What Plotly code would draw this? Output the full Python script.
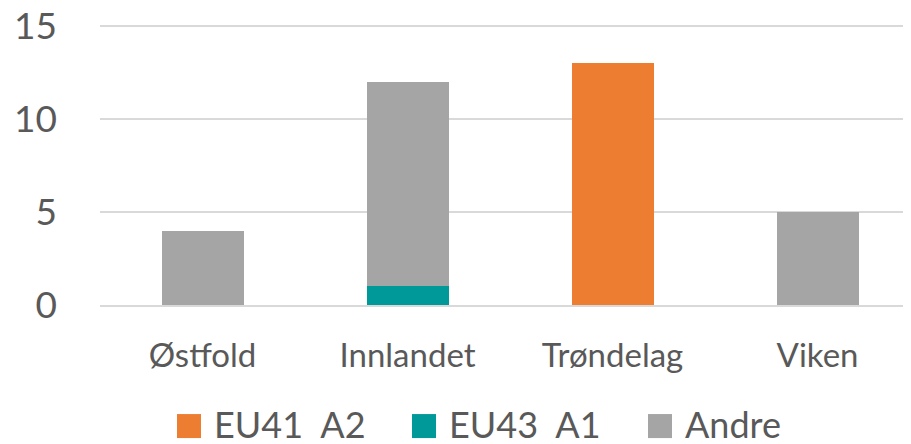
import plotly.graph_objects as go

# Data
regions = ["Østfold", "Innlandet", "Trøndelag", "Viken"]
eu41_a2 = [0, 0, 13, 0]
eu43_a1 = [0, 1, 0, 0]
andre = [4, 11, 0, 5]

series = [
    ("EU41  A2", eu41_a2, "#ED7D31"),
    ("EU43  A1", eu43_a1, "#009999"),
    ("Andre", andre, "#A5A5A5"),
]

FONT = "Lato, 'Open Sans', sans-serif"
TEXT_COLOR = "#595959"

# page body has an 8px margin, so the figure is laid out 8px smaller
W, H = 903, 436
Y_MAX = 15.1                      # a little headroom so the 15 gridline is drawn
ML, MB = 92, 139
MT = 18 - 279 * (Y_MAX - 15) / 15
PW, PH = W - ML, H - MT - MB


def px_to_paper(x, y):
    # page pixel (reference coordinates) -> paper coordinates
    return (x - 8 - ML) / PW, (H - MB - (y - 8)) / PH


fig = go.Figure()
for name, vals, color in series:
    fig.add_trace(go.Bar(
        x=regions,
        y=vals,
        name=name,
        marker=dict(color=color, line_width=0),
        width=0.4,
        showlegend=False,
    ))

# hand-made legend (bigger keys than plotly's own legend allows)
key_left = [177, 412, 648]
shapes, annotations = [], []
for (name, _, color), kx in zip(series, key_left):
    x0, y0 = px_to_paper(kx, 438)
    x1, y1 = px_to_paper(kx + 24, 414)
    shapes.append(dict(type="rect", xref="paper", yref="paper",
                       x0=x0, x1=x1, y0=y0, y1=y1,
                       fillcolor=color, line_width=0))
    tx, ty = px_to_paper(kx + 35, 424)
    annotations.append(dict(text=name, xref="paper", yref="paper",
                            x=tx, y=ty, xanchor="left", yanchor="middle",
                            showarrow=False,
                            font=dict(size=36, color=TEXT_COLOR)))

fig.update_layout(
    barmode="stack",
    width=W, height=H,
    margin=dict(l=ML, r=0, t=MT, b=MB, pad=0, autoexpand=False),
    paper_bgcolor="white",
    plot_bgcolor="white",
    font=dict(family=FONT, size=33, color=TEXT_COLOR),
    showlegend=False,
    shapes=shapes,
    annotations=annotations,
    xaxis=dict(
        range=[-0.5, 3.456],
        showgrid=False,
        showline=True, linecolor="#D9D9D9", linewidth=2,
        ticks="", ticklabelstandoff=20,
        tickfont=dict(size=33),
        automargin=False,
    ),
    yaxis=dict(
        range=[0, Y_MAX],
        tickvals=[0, 5, 10, 15],
        showgrid=True, gridcolor="#D9D9D9", gridwidth=2,
        zeroline=False,
        showline=False,
        ticks="", ticklabelstandoff=42,
        ticklabeloverflow="allow",
        tickfont=dict(size=37),
        automargin=False,
    ),
)

fig.write_html("out.html")
